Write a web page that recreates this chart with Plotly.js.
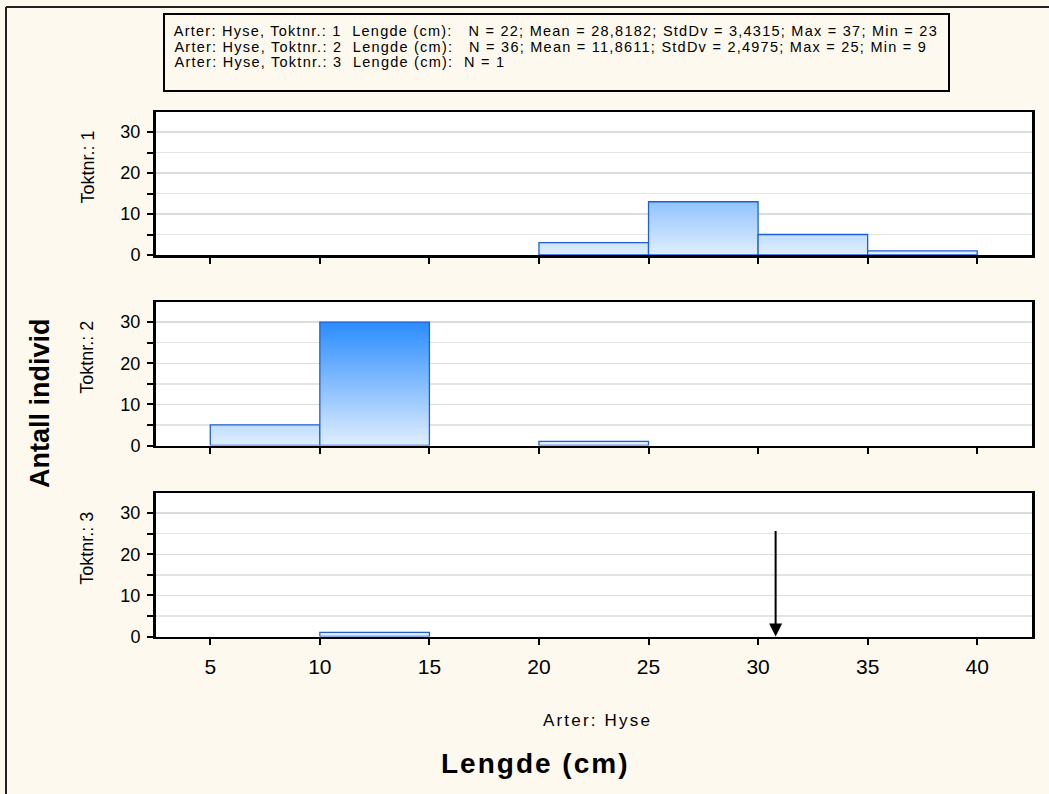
<!DOCTYPE html>
<html>
<head>
<meta charset="utf-8">
<script src="https://cdn.plot.ly/plotly-3.0.1.min.js"></script>
<style>
html,body{margin:0;padding:0;background:#FEF9EE;}
.annotation[data-index="0"] text,
.annotation[data-index="1"] text,
.annotation[data-index="2"] text{letter-spacing:1.25px;}
.annotation[data-index="4"] text{letter-spacing:2.2px;}
.annotation[data-index="5"] text{letter-spacing:2px;}
</style>
</head>
<body>
<div id="chart" style="width:1049px;height:794px;"></div>
<script>
// ---- data ----
const binStarts = [5, 10, 15, 20, 25, 30, 35];
const binWidth = 5;
const panelNames = ["Toktnr.: 1", "Toktnr.: 2", "Toktnr.: 3"];
const counts1 = [0, 0, 0, 3, 13, 5, 1];
const counts2 = [5, 30, 0, 1, 0, 0, 0];
const counts3 = [0, 1, 0, 0, 0, 0, 0];
const summaryLines = [
  "Arter: Hyse, Toktnr.: 1  Lengde (cm):   N = 22; Mean = 28,8182; StdDv = 3,4315; Max = 37; Min = 23",
  "Arter: Hyse, Toktnr.: 2  Lengde (cm):   N = 36; Mean = 11,8611; StdDv = 2,4975; Max = 25; Min = 9",
  "Arter: Hyse, Toktnr.: 3  Lengde (cm):  N = 1"
];
const xTicks = [5, 10, 15, 20, 25, 30, 35, 40];
const yTicks = [0, 10, 20, 30];
const arrowX = 30.8;
const arrowTopY = 26;

const allCounts = [counts1, counts2, counts3];
const W = 1049, H = 794;
const px = v => v / W;
const py = v => 1 - v / H;

const panels = [[112, 255], [302, 445.5], [493, 636.5]];
const font = "Liberation Sans, Arial, sans-serif";

const traces = [];
allCounts.forEach((counts, p) => {
  const sfx = p === 0 ? "" : String(p + 1);
  counts.forEach((c, i) => {
    if (c <= 0) return;
    const x0 = binStarts[i], x1 = binStarts[i] + binWidth;
    traces.push({
      type: "scatter", mode: "lines",
      x: [x0, x0, x1, x1, x0],
      y: [0, c, c, 0, 0],
      xaxis: "x" + sfx, yaxis: "y" + sfx,
      fill: "toself",
      fillgradient: {type: "vertical", start: 0, stop: 30,
        colorscale: [[0, "#E0EEFD"], [1, "#2A8CFF"]]},
      line: {color: "#1E5FD8", width: 1.3},
      hoverinfo: "skip", showlegend: false
    });
  });
});

const layout = {
  width: W, height: H,
  margin: {l: 0, r: 0, t: 0, b: 0},
  paper_bgcolor: "#FEF9EE",
  plot_bgcolor: "#FFFFFF",
  showlegend: false,
  font: {family: font, color: "#000"},
  annotations: [],
  shapes: []
};

panels.forEach((pp, p) => {
  const sfx = p === 0 ? "" : String(p + 1);
  const xa = "xaxis" + sfx, ya = "yaxis" + sfx;
  layout[xa] = {
    domain: [px(155.5), px(1032)],
    range: [2.5, 42.5],
    anchor: "y" + sfx,
    tickvals: xTicks,
    ticktext: xTicks.map(String),
    showticklabels: p === 2,
    ticks: "outside", ticklen: 6, tickwidth: 2, tickcolor: "#000",
    ticklabelstandoff: 4,
    showgrid: false, zeroline: false,
    showline: true, linecolor: "#000", linewidth: 2.5, mirror: true,
    tickfont: {size: 21, family: font, color: "#000"}
  };
  layout[ya] = {
    domain: [py(pp[1]), py(pp[0])],
    range: [0, 34.9],
    anchor: "x" + sfx,
    tickvals: yTicks,
    ticktext: yTicks.map(String),
    ticks: "outside", ticklen: 6, tickwidth: 2, tickcolor: "#000",
    ticklabelstandoff: 3,
    minor: {tickvals: [5, 15, 25], ticks: "outside", ticklen: 6, tickwidth: 2, tickcolor: "#000",
            showgrid: true, gridcolor: "#E4E4E4", gridwidth: 1.5},
    showgrid: true, gridcolor: "#DCDCDC", gridwidth: 1.5,
    zeroline: false,
    showline: true, linecolor: "#000", linewidth: 2.5, mirror: true,
    tickfont: {size: 18, family: font, color: "#000"}
  };
});

// summary box
layout.shapes.push({type: "rect", xref: "paper", yref: "paper",
  x0: px(164), x1: px(949), y0: py(91), y1: py(14),
  line: {color: "#000", width: 2}, fillcolor: "rgba(0,0,0,0)"});
const lineMid = [31, 46.5, 62];
const summarySpacing = 1.25;
summaryLines.forEach((t, i) => {
  // letter-spacing (CSS) widens text symmetrically; shift by half the added width
  const shift = t.length * summarySpacing / 2;
  layout.annotations.push({xref: "paper", yref: "paper", x: px(172 + shift), y: py(lineMid[i]),
    xanchor: "left", yanchor: "middle", showarrow: false, text: t,
    font: {size: 14.5, family: font, color: "#000"}});
});

// outer frame (top and left)
layout.shapes.push({type: "line", xref: "paper", yref: "paper",
  x0: px(6), x1: 1, y0: py(7), y1: py(7), line: {color: "#222", width: 2}});
layout.shapes.push({type: "line", xref: "paper", yref: "paper",
  x0: px(6), x1: px(6), y0: py(7), y1: 0, line: {color: "#222", width: 2}});

// titles
layout.annotations.push({xref: "paper", yref: "paper", x: px(40), y: py(403),
  xanchor: "center", yanchor: "middle",
  text: "<b>Antall individ</b>", textangle: -90, showarrow: false,
  font: {size: 27, family: font, color: "#000"}});
layout.annotations.push({xref: "paper", yref: "paper", x: px(597), y: py(720),
  xanchor: "center", yanchor: "middle",
  text: "Arter: Hyse", showarrow: false,
  font: {size: 17, family: font, color: "#000"}});
layout.annotations.push({xref: "paper", yref: "paper", x: px(535), y: py(763),
  xanchor: "center", yanchor: "middle",
  text: "<b>Lengde (cm)</b>", showarrow: false,
  font: {size: 28, family: font, color: "#000"}});

// arrow
layout.annotations.push({xref: "x3", yref: "y3", x: arrowX, y: 0,
  axref: "x3", ayref: "y3", ax: arrowX, ay: arrowTopY,
  showarrow: true, arrowhead: 2, arrowsize: 1.3, arrowwidth: 2, arrowcolor: "#000", text: ""});

// panel titles
panels.forEach((pp, p) => {
  layout.annotations.push({xref: "paper", yref: "paper", x: px(87), y: py((pp[0] + pp[1]) / 2 - 16),
    xanchor: "center", yanchor: "middle",
    text: panelNames[p], textangle: -90, showarrow: false,
    font: {size: 18, family: font, color: "#000"}});
});

Plotly.newPlot("chart", traces, layout, {displayModeBar: false, staticPlot: true});
</script>
</body>
</html>
